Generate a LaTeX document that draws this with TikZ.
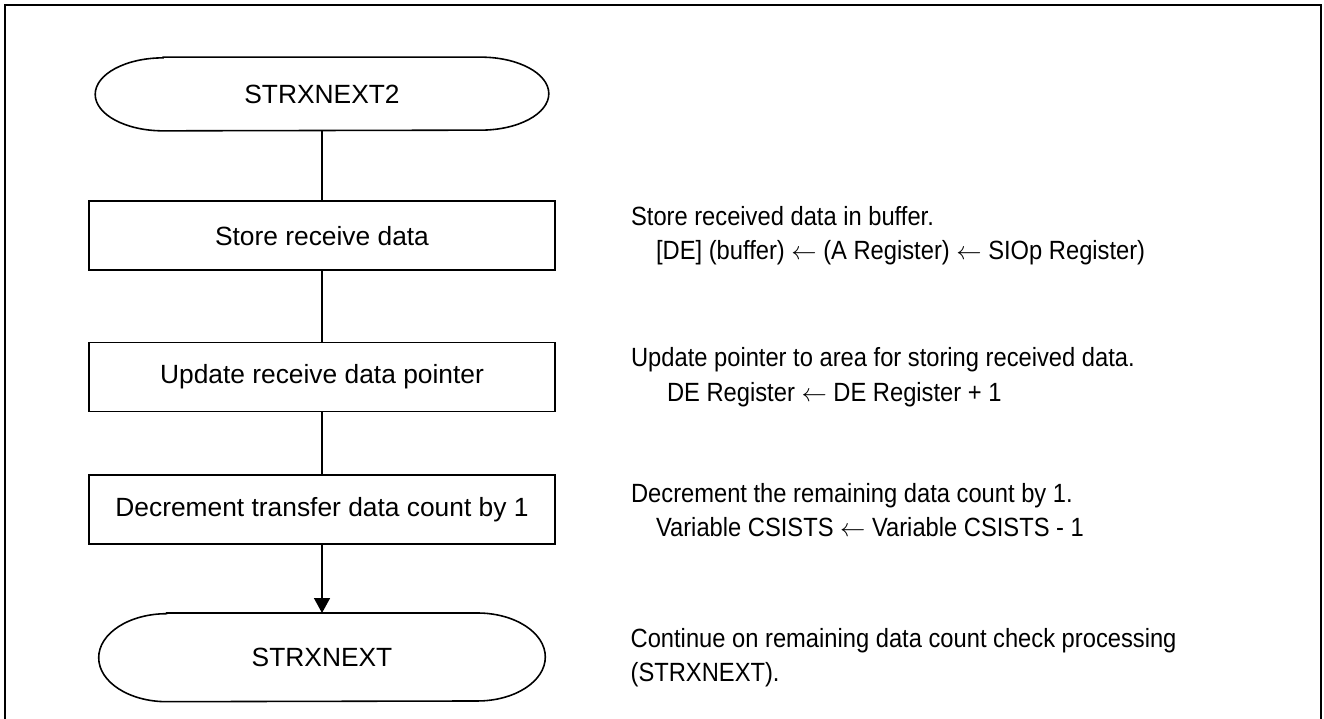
\documentclass[tikz,border=0pt]{standalone}
\usepackage{fontspec}
\setmainfont{Liberation Sans}
\newfontfamily\notefont[FakeStretch=0.9]{Liberation Sans}
\usetikzlibrary{positioning,arrows.meta}

\begin{document}
\begin{tikzpicture}[x=0.02cm,y=-0.02cm,
 font=\fontsize{15pt}{18pt}\selectfont,
 proc/.style={draw,line width=0.9pt,minimum width=9.32cm,minimum height=1.38cm,inner sep=0pt},
 term/.style={minimum width=9.06cm,minimum height=1.46cm,inner sep=0pt},
 note/.style={font=\notefont\fontsize{15pt}{19.5pt}\selectfont,align=left,inner sep=0pt},
 flow/.style={line width=0.9pt}]
 \useasboundingbox (0,0) rectangle (1324,719);
 \draw[line width=1.5pt] (5,725) -- (5,5) -- (1321,5) -- (1321,725);
 \node[term](start) at (322,94) {STRXNEXT2};
 \node[proc,below=1.39cm of start](store){Store receive data};
 \node[proc,below=1.42cm of store](ptr){Update receive data pointer};
 \node[proc,below=1.24cm of ptr](dec){Decrement transfer data count by 1};
 \node[term,minimum width=8.92cm,minimum height=1.76cm,below=1.36cm of dec](stop){STRXNEXT};
 % rounded ends of the terminals
 \foreach \n/\ry in {start/0.73cm,stop/0.88cm}
  \draw[flow] ([xshift=1.36cm]\n.north west) -- ([xshift=-1.36cm]\n.north east)
   arc[start angle=90,end angle=-90,x radius=1.36cm,y radius=\ry]
   -- ([xshift=1.36cm]\n.south west)
   arc[start angle=270,end angle=90,x radius=1.36cm,y radius=\ry] -- cycle;
 \draw[flow](start)--(store);
 \draw[flow](store)--(ptr);
 \draw[flow](ptr)--(dec);
 \draw[flow,-{Triangle[length=0.3cm,width=0.32cm]}](dec)--(stop);
 % comments on the right
 \node[note,right=1.5cm of store](nstore){Store received data in buffer.\\\hspace*{0.5cm}[DE] (buffer) $\leftarrow$ (A Register) $\leftarrow$ SIOp Register)};
 \node[note,right=1.5cm of ptr](nptr){Update pointer to area for storing received data.\\\hspace*{0.72cm}DE Register $\leftarrow$ DE Register + 1};
 \node[note,right=1.5cm of dec](ndec){Decrement the remaining data count by 1.\\\hspace*{0.5cm}Variable CSISTS $\leftarrow$ Variable CSISTS - 1};
 \node[note,right=1.7cm of stop](nstop){Continue on remaining data count check processing\\(STRXNEXT).};
\end{tikzpicture}
\end{document}
